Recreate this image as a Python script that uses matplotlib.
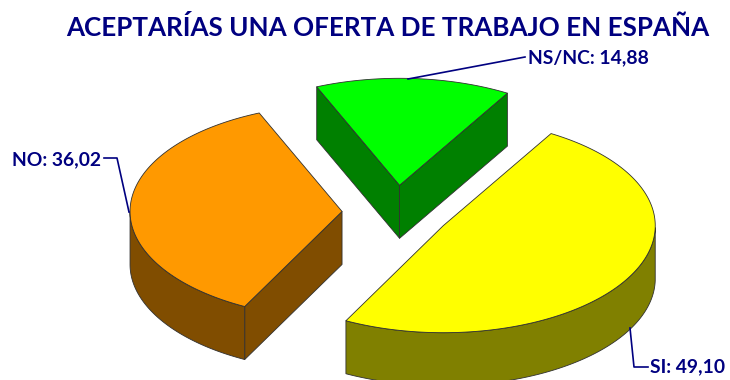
import numpy as np
import matplotlib
matplotlib.use('Agg')
import matplotlib.pyplot as plt
from matplotlib.patches import Polygon

# datos
categorias = ['NS/NC', 'SI', 'NO']
valores = [14.88, 49.10, 36.02]
etiquetas = ['NS/NC: 14,88', 'SI: 49,10', 'NO: 36,02']
col_arriba = ['#00FF00', '#FFFF00', '#FF9900']
col_lado = ['#008000', '#808000', '#804D00']

# geometria de la tarta, en pixeles
cx, cy = 396, 212.5
a, b = 212, 107      # semiejes
alto = 53            # grosor
sep = 54             # separacion de las porciones
inicio = -23         # angulo de la primera porcion

plt.rcParams['font.family'] = ['Lato', 'DejaVu Sans']
fig = plt.figure(figsize=(7.3, 3.8), dpi=100)
ax = fig.add_axes([0, 0, 1, 1])
ax.set_xlim(0, 730)
ax.set_ylim(380, 0)
ax.axis('off')


def punto(t, r=1.0):
    t = np.radians(t)
    return np.sin(t) * a * r, -np.cos(t) * b * r


borde = dict(edgecolor='#303030', linewidth=0.6, joinstyle='round')
t0 = inicio
for i, v in enumerate(valores):
    t1 = t0 + v * 3.6
    mx, my = punto((t0 + t1) / 2, sep / a)
    x0, y0 = cx + mx, cy + my
    tt = np.linspace(t0, t1, 150)
    ax_, ay_ = punto(tt)
    ax_, ay_ = ax_ + x0, ay_ + y0

    # paredes rectas, solo las que miran hacia delante
    for t, normal in ((t0, t0 - 90), (t1, t1 + 90)):
        if np.cos(np.radians(normal)) < 0:
            px, py = punto(t)
            pared = [(x0, y0), (x0 + px, y0 + py), (x0 + px, y0 + py + alto), (x0, y0 + alto)]
            ax.add_patch(Polygon(pared, facecolor=col_lado[i], **borde))

    # pared curva, solo la parte de delante
    delante = (tt >= 90) & (tt <= 270)
    if delante.any():
        fx, fy = ax_[delante], ay_[delante]
        pts = np.r_[np.c_[fx, fy], np.c_[fx[::-1], fy[::-1] + alto]]
        ax.add_patch(Polygon(pts, facecolor=col_lado[i], **borde))

    # cara de arriba
    pts = np.r_[[[x0, y0]], np.c_[ax_, ay_]]
    ax.add_patch(Polygon(pts, facecolor=col_arriba[i], **borde))
    t0 = t1

azul = '#000080'
ax.text(388, 28, 'ACEPTARÍAS UNA OFERTA DE TRABAJO EN ESPAÑA', color=azul,
        fontsize=18.7, fontweight='bold', ha='center', va='center')

# lineas guia y etiquetas
ax.plot([408, 525], [79, 57], color=azul, lw=1.2)
ax.text(528, 58, etiquetas[0], color=azul, fontsize=13.9, fontweight='bold', va='center')
ax.plot([630, 634, 648], [328, 367, 367], color=azul, lw=1.2)
ax.text(650, 367, etiquetas[1], color=azul, fontsize=13.9, fontweight='bold', va='center')
ax.plot([129, 117, 104], [212, 158, 158], color=azul, lw=1.2)
ax.text(101, 160, etiquetas[2], color=azul, fontsize=13.9, fontweight='bold', va='center', ha='right')

fig.savefig('out.png', dpi=100)
